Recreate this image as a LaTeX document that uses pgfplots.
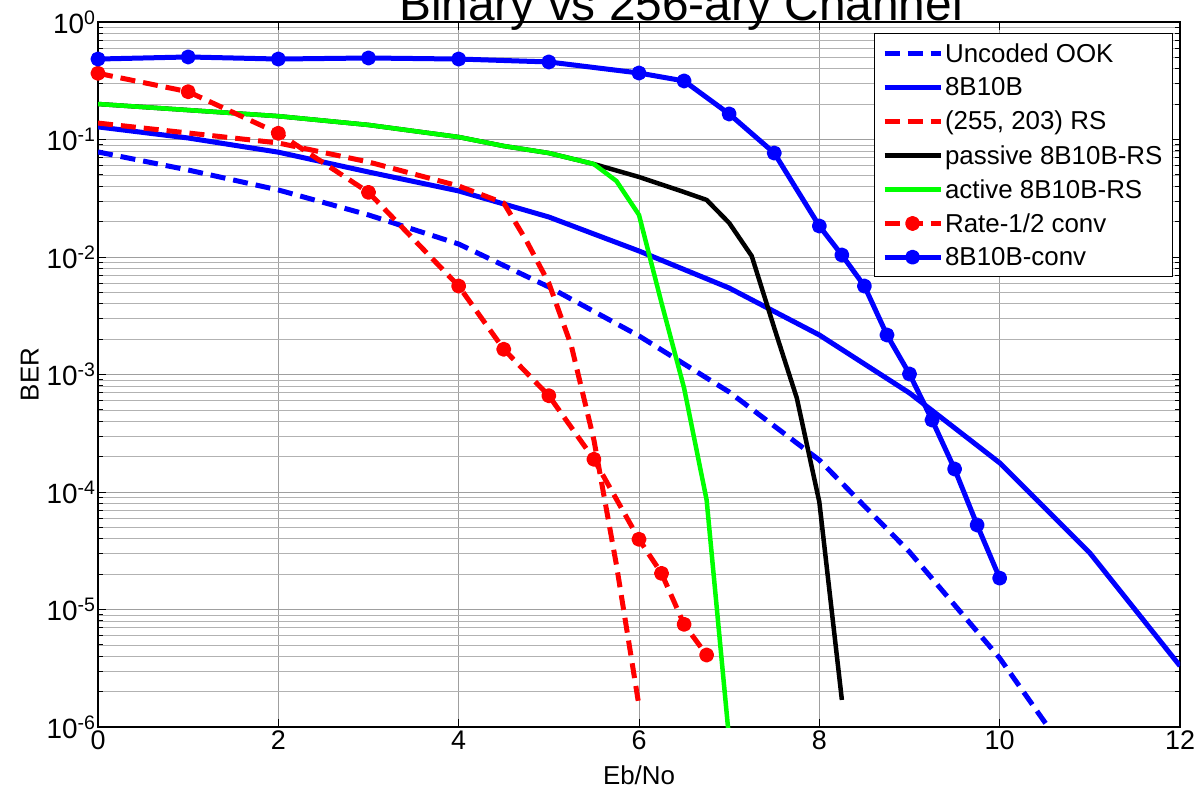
\documentclass[border=0pt]{standalone}
\usepackage{fontspec}
\setmainfont{Liberation Sans}
\usepackage{pgfplots}
\pgfplotsset{compat=1.18}
\definecolor{mblue}{rgb}{0,0,1}
\definecolor{mred}{rgb}{1,0,0}
\definecolor{mgreen}{rgb}{0,1,0}
\begin{document}
\begin{tikzpicture}
\begin{axis}[
  at={(98bp,65bp)}, anchor=south west,
  scale only axis, width=1082bp, height=705bp,
  xmin=0, xmax=12, ymode=log, ymin=1e-6, ymax=1,
  xtick={0,2,4,6,8,10,12}, xticklabels={0,2,4,6,8,10,12},
  ytick={1e-6,1e-5,1e-4,1e-3,1e-2,1e-1,1},
  yticklabels={10\textsuperscript{-6},10\textsuperscript{-5},10\textsuperscript{-4},10\textsuperscript{-3},10\textsuperscript{-2},10\textsuperscript{-1},10\textsuperscript{0}},
  minor ytick={2e-6,3e-6,4e-6,5e-6,6e-6,7e-6,8e-6,9e-6,
               2e-5,3e-5,4e-5,5e-5,6e-5,7e-5,8e-5,9e-5,
               2e-4,3e-4,4e-4,5e-4,6e-4,7e-4,8e-4,9e-4,
               2e-3,3e-3,4e-3,5e-3,6e-3,7e-3,8e-3,9e-3,
               2e-2,3e-2,4e-2,5e-2,6e-2,7e-2,8e-2,9e-2,
               2e-1,3e-1,4e-1,5e-1,6e-1,7e-1,8e-1,9e-1},
  xmajorgrids, ymajorgrids, yminorgrids,
  major grid style={gray!75, line width=0.6bp},
  minor grid style={gray!60, line width=0.6bp},
  tick align=inside,
  major tick length=8bp, minor tick length=5bp,
  tick style={black, line width=0.8bp},
  axis line style={black, line width=1.5bp},
  xticklabel style={font=\fontsize{27}{30}\selectfont},
  yticklabel style={font=\fontsize{28}{30}\selectfont, xshift=1bp},
  xlabel={Eb/No}, ylabel={BER},
  label style={font=\fontsize{26}{28}\selectfont},
  xlabel style={at={(axis description cs:0.5,-0.068)}, anchor=center},
  ylabel style={at={(axis description cs:-0.063,0.5)}, anchor=center},
  title={Binary vs 256-ary Channel},
  title style={at={(axis description cs:0.5,1)}, anchor=base, xshift=42bp, yshift=-4bp, font=\fontsize{48}{56}\selectfont},
  legend cell align=left,
  legend style={at={(axis description cs:0.9935,0.984)}, anchor=north east,
    font=\fontsize{26}{28}\selectfont, draw=black, line width=1bp,
    inner sep=8bp, row sep=9.8bp, fill=white},
  legend image code/.code={\draw[mark repeat=2,mark phase=2,#1] plot coordinates {(0bp,0bp)(28bp,0bp)(56bp,0bp)};},
  every axis plot/.append style={line width=5bp, line join=round},
]
% Uncoded OOK
\addplot[mblue, dash pattern=on 15bp off 8bp] coordinates {
(0,0.0783)(1,0.055)(2,0.0372)(3,0.0228)(4,0.0129)(5,0.00556)(6,0.00213)(7,7.1e-4)(8,1.87e-4)(9,3.09e-5)(10,3.86e-6)(10.5,1.1e-6)(11,3.2e-7)};
\addlegendentry{Uncoded OOK}
% 8B10B
\addplot[mblue] coordinates {
(0,0.128)(1,0.103)(2,0.078)(3,0.0529)(4,0.0365)(5,0.0219)(6,0.01125)(7,0.00545)(8,0.00217)(9,6.96e-4)(10,1.77e-4)(11,3.03e-5)(12,3.31e-6)};
\addlegendentry{8B10B}
% RS
\addplot[mred, dash pattern=on 15bp off 8bp] coordinates {
(0,0.138)(1,0.1136)(2,0.0934)(3,0.0644)(4,0.0402)(4.5,0.0288)(4.75,0.0138)(5,0.0060)(5.25,0.00175)(5.5,2.77e-4)(5.75,2.39e-5)(6,1.51e-6)};
\addlegendentry{(255, 203) RS}
% passive
\addplot[black, line width=4.5bp] coordinates {
(0,0.2005)(1,0.178)(2,0.158)(3,0.133)(4,0.105)(4.5,0.088)(5,0.0767)(5.5,0.0618)(6,0.048)(6.5,0.0357)(6.75,0.0306)(7,0.0195)(7.25,0.0102)(7.5,0.00249)(7.75,6.31e-4)(8,8.22e-5)(8.25,1.70e-6)};
\addlegendentry{passive 8B10B-RS}
% active
\addplot[mgreen, line width=4.5bp] coordinates {
(0,0.2005)(1,0.178)(2,0.158)(3,0.133)(4,0.105)(4.5,0.088)(5,0.0767)(5.5,0.0618)(5.75,0.0443)(6,0.0228)(6.25,0.00406)(6.5,7.67e-4)(6.75,8.55e-5)(7,7.8e-7)};
\addlegendentry{active 8B10B-RS}
% Rate-1/2 conv
\addplot[mred, dash pattern=on 15bp off 8bp, mark=*, mark size=5bp, mark options={solid, fill=mred}] coordinates {
(0,0.366)(1,0.255)(2,0.113)(3,0.0355)(4,0.00566)(4.5,0.00164)(5,6.6e-4)(5.5,1.90e-4)(6,3.96e-5)(6.25,2.03e-5)(6.5,7.48e-6)(6.75,4.10e-6)};
\addlegendentry{Rate-1/2 conv}
% 8B10B-conv
\addplot[mblue, mark=*, mark size=5bp, mark options={solid, fill=mblue}] coordinates {
(0,0.484)(1,0.504)(2,0.484)(3,0.494)(4,0.484)(5,0.457)(6,0.368)(6.5,0.315)(7,0.165)(7.5,0.0767)(8,0.01836)(8.25,0.0104)(8.5,0.00566)(8.75,0.00217)(9,0.00101)(9.25,4.10e-4)(9.5,1.57e-4)(9.75,5.24e-5)(10,1.85e-5)};
\addlegendentry{8B10B-conv}
\end{axis}
\pgfresetboundingbox
\useasboundingbox (0,0) rectangle (1197bp,792bp);
\end{tikzpicture}
\end{document}
